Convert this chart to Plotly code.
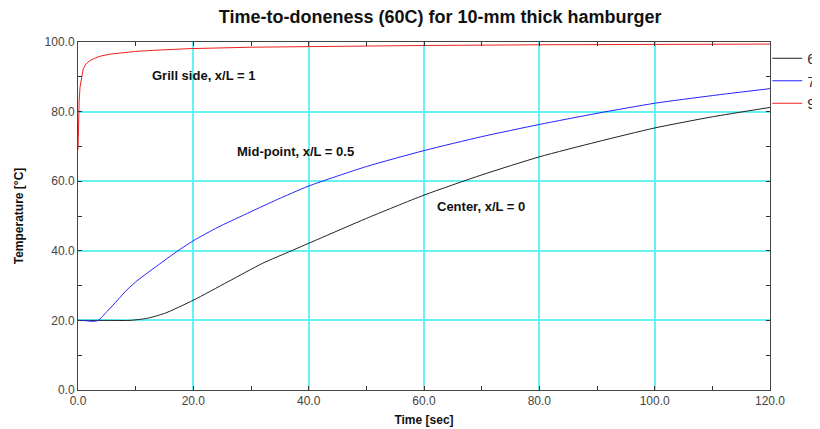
import plotly.graph_objects as go

# Data
t_center = [0, 5, 9, 12, 15, 20, 26, 32, 37, 41.6, 50, 60, 70, 80, 90, 100, 110, 120]
T_center = [20, 20, 20, 20.6, 22.0, 25.8, 31.1, 36.4, 40.0, 43.3, 49.3, 56.0, 61.8, 67.0, 71.3, 75.3, 78.5, 81.2]

t_mid = [0, 1.5, 2.5, 3.5, 5, 6.9, 8.5, 10.4, 13.9, 16.8, 20, 24.3, 28.9, 34.1, 40, 50, 60, 70, 80, 90, 100, 110, 120]
T_mid = [20, 19.9, 19.7, 20, 22.5, 25.9, 28.8, 31.6, 35.9, 39.4, 42.9, 46.8, 50.4, 54.4, 58.6, 64.2, 68.8, 72.8, 76.3, 79.5, 82.4, 84.6, 86.6]

t_grill = [0, 0.1, 0.2, 0.35, 0.6, 0.9, 1.4, 2.1, 3, 3.8, 5.5, 7.3, 10, 13, 19.4, 30, 45, 60, 80, 100, 120]
T_grill = [69, 78, 83, 87, 90, 92.3, 93.7, 94.7, 95.4, 95.9, 96.5, 96.9, 97.3, 97.6, 98.1, 98.5, 98.8, 99.0, 99.2, 99.3, 99.4]

series_names = ["60", "70", "90"]
x_ticks = [0, 20, 40, 60, 80, 100, 120]
y_ticks = [0, 20, 40, 60, 80, 100]

labels = ["Grill side, x/L = 1", "Mid-point, x/L = 0.5", "Center, x/L = 0"]
label_x = [12.5, 27.2, 61.9]
label_y = [90.3, 68.5, 52.6]

FONT = "Liberation Sans, Arial"

fig = go.Figure()
fig.add_trace(go.Scatter(x=t_center, y=T_center, mode="lines", name=series_names[0],
                         line=dict(color="#222222", width=1, shape="spline", smoothing=0.6)))
fig.add_trace(go.Scatter(x=t_mid, y=T_mid, mode="lines", name=series_names[1],
                         line=dict(color="#2424ff", width=1, shape="spline", smoothing=0.6)))
fig.add_trace(go.Scatter(x=t_grill, y=T_grill, mode="lines", name=series_names[2],
                         line=dict(color="#f02020", width=1)))

for txt, lx, ly in zip(labels, label_x, label_y):
    fig.add_annotation(x=lx, y=ly, text=txt, showarrow=False, xanchor="left", yanchor="middle",
                       font=dict(family=FONT, size=13, color="#111111", weight="bold"))

axis_common = dict(
    automargin=False,
    showline=True, linecolor="#444444", linewidth=1, mirror="allticks",
    showgrid=True, gridcolor="#66f2f2", gridwidth=2,
    zeroline=False, ticks="inside", ticklen=4, tickcolor="#333333",
    tickformat=".1f",
    tickfont=dict(family=FONT, size=12, color="#444444"),
    minor=dict(dtick=10, ticks="inside", ticklen=4, tickcolor="#333333", showgrid=False),
)

fig.update_layout(
    width=820, height=429,
    margin=dict(l=70, r=58, t=34, b=47, autoexpand=False),
    paper_bgcolor="white", plot_bgcolor="white",
    title=dict(text="Time-to-doneness (60C) for 10-mm thick hamburger",
               x=0.527, xanchor="center", y=0.979, yanchor="middle",
               font=dict(family=FONT, size=18, color="#111111", weight="bold")),
    xaxis=dict(range=[0, 120], tickvals=x_ticks,
               title=dict(text="Time [sec]", standoff=8,
                          font=dict(family=FONT, size=12, color="#111111", weight="bold")),
               **axis_common),
    yaxis=dict(range=[0, 100], tickvals=y_ticks,
               title=dict(text="Temperature [°C]", standoff=18,
                          font=dict(family=FONT, size=12, color="#111111", weight="bold")),
               **axis_common),
    legend=dict(x=0.996, xanchor="left", y=1.0, yanchor="top",
                bgcolor="rgba(0,0,0,0)", borderwidth=0,
                font=dict(family=FONT, size=15, color="#333333"),
                itemwidth=30, tracegroupgap=0),
    showlegend=True,
)

fig.write_html("out.html")
